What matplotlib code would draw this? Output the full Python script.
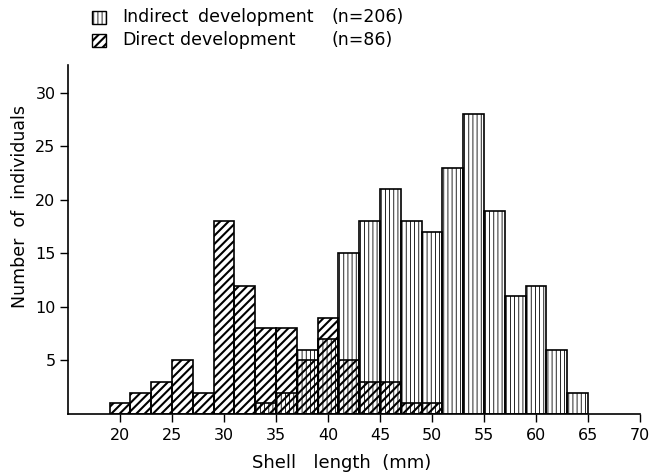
"""Shell length histogram: indirect vs direct development."""

import matplotlib

matplotlib.use("Agg")

import matplotlib.pyplot as plt
from matplotlib.patches import Rectangle

# 2 mm size classes, left edges
bin_starts = [19, 21, 23, 25, 27, 29, 31, 33, 35, 37, 39, 41,
              43, 45, 47, 49, 51, 53, 55, 57, 59, 61, 63]
bin_width = 2
indirect_counts = [0, 0, 0, 0, 0, 0, 0, 1, 2, 6, 7, 15,
                   18, 21, 18, 17, 23, 28, 19, 11, 12, 6, 2]
direct_counts = [1, 2, 3, 5, 2, 18, 12, 8, 8, 5, 9, 5,
                 3, 3, 1, 1, 0, 0, 0, 0, 0, 0, 0]

x_ticks = [20, 25, 30, 35, 40, 45, 50, 55, 60, 65, 70]
y_ticks = [5, 10, 15, 20, 25, 30]

W, H = 652, 476


def hatched_bars(ax, counts, hatch, hatch_lw, zorder):
    lefts = [b for b, c in zip(bin_starts, counts) if c > 0]
    heights = [c for c in counts if c > 0]
    bars = ax.bar(lefts, heights, width=bin_width, align="edge",
                  facecolor="none", edgecolor="black", linewidth=1.2,
                  hatch=hatch, zorder=zorder)
    for patch in bars:
        if hasattr(patch, "set_hatch_linewidth"):
            patch.set_hatch_linewidth(hatch_lw)
    return bars


plt.rcParams["hatch.linewidth"] = 1.0
fig = plt.figure(figsize=(W / 100, H / 100), dpi=100)
ax = fig.add_axes([68 / W, (H - 414) / H, (640 - 68) / W, (414 - 65) / H])

hatched_bars(ax, indirect_counts, "||||", 0.6, 2)
hatched_bars(ax, direct_counts, "////", 1.5, 3)

ax.set_xlim(15, 70)
ax.set_ylim(0, 32.6)
ax.set_xticks(x_ticks)
ax.set_yticks(y_ticks)
ax.tick_params(axis="both", direction="out", width=1.0, labelsize=11.5)
ax.tick_params(axis="x", length=6, pad=4)
ax.tick_params(axis="y", length=6, pad=3)
for side in ("top", "right"):
    ax.spines[side].set_visible(False)
for side in ("left", "bottom"):
    ax.spines[side].set_linewidth(1.2)

ax.set_xlabel("Shell   length  (mm)", fontsize=13)
ax.set_ylabel("Number  of  individuals", fontsize=12.5)
ax.xaxis.set_label_coords((342 - 68) / 572, -(463 - 414) / 349)
ax.yaxis.set_label_coords((20 - 68) / 572, (414 - 207) / 349)
ax.xaxis.label.set_va("center")
ax.yaxis.label.set_va("center")

# legend drawn by hand to keep the n= column aligned
legend_rows = [
    ("||||", 0.6, ["Indirect", "development"], "(n=206)", 17),
    ("////", 1.5, ["Direct", "development"], "(n=86)", 40),
]
for hatch, hlw, words, n_text, y_px in legend_rows:
    rect = Rectangle((92 / W, 1 - (y_px + 7) / H), 14 / W, 13 / H,
                     transform=fig.transFigure, facecolor="none",
                     edgecolor="black", linewidth=1.0, hatch=hatch)
    if hasattr(rect, "set_hatch_linewidth"):
        rect.set_hatch_linewidth(hlw)
    fig.patches.append(rect)
    word_x = [122, 198] if words[0] == "Indirect" else [122, 180]
    for wx, word in zip(word_x, words):
        fig.text(wx / W, 1 - y_px / H, word, fontsize=12.5, va="center")
    fig.text(332 / W, 1 - y_px / H, n_text, fontsize=12.5, va="center")

fig.savefig("out.png", dpi=100)
plt.close(fig)
